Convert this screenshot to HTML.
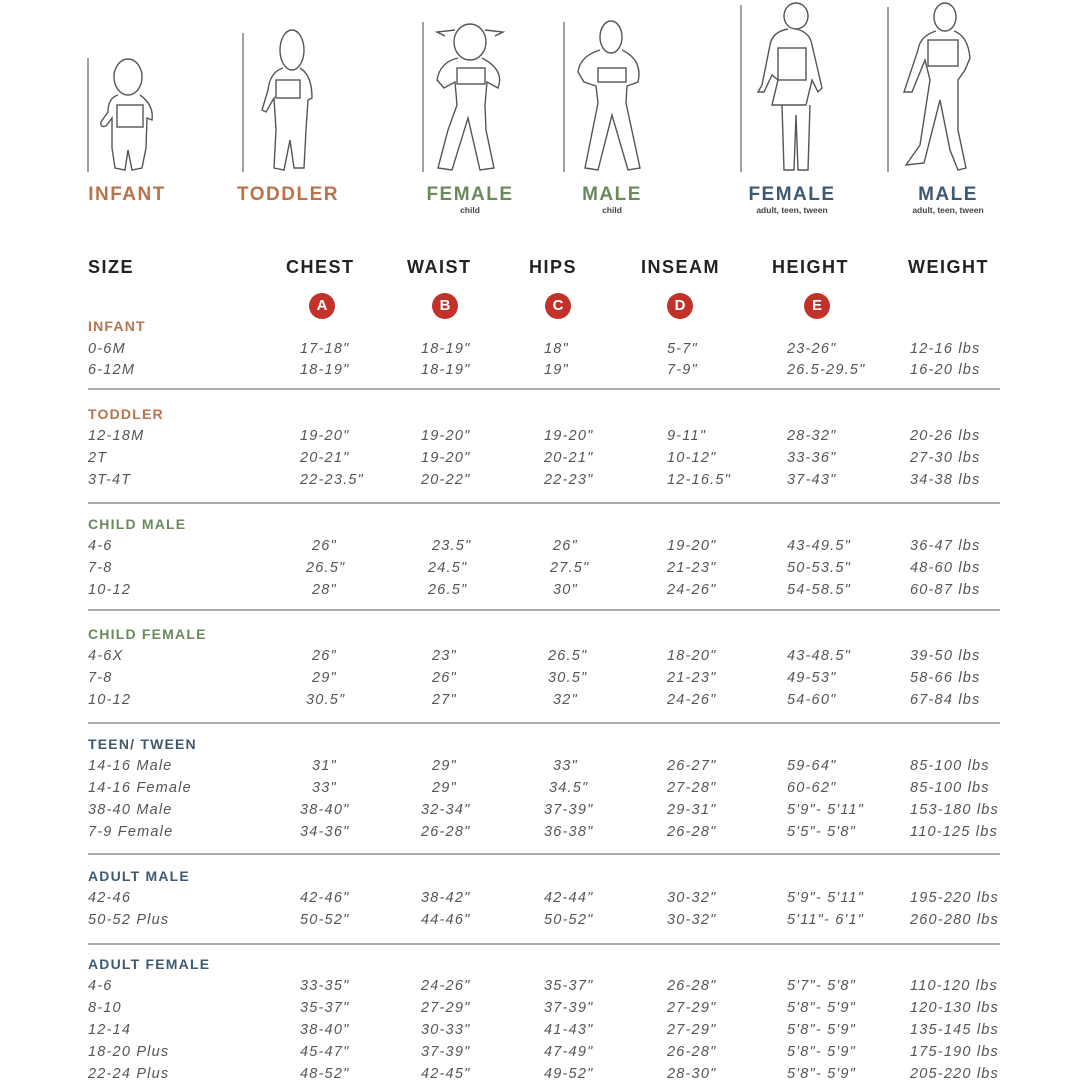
<!DOCTYPE html>
<html><head><meta charset="utf-8"><style>
body{margin:0;width:1080px;height:1080px;background:#fff;position:relative;overflow:hidden;font-family:"Liberation Sans",sans-serif}
.t{position:absolute;white-space:nowrap;font-style:italic;font-size:14.5px;color:#555;letter-spacing:1.2px;line-height:18px}
.h{position:absolute;font-weight:bold;font-size:18px;color:#222;letter-spacing:1.5px;line-height:20px}
.s{position:absolute;font-weight:bold;font-size:14px;letter-spacing:1.2px;line-height:16px}
.c{position:absolute;width:26px;height:26px;border-radius:50%;background:#c3322a;color:#fff;font-weight:bold;font-size:15px;text-align:center;line-height:26px}
.l{position:absolute;left:88px;width:912px;height:2px;background:#aaa}
.lab{position:absolute;font-weight:bold;font-size:19px;letter-spacing:1.5px;text-align:center;line-height:20px}
.sub{position:absolute;font-weight:bold;font-size:8.5px;color:#444;text-align:center}
.a{left:88px}.b{left:300px}.cc{left:421px}.d{left:544px}.e{left:667px}.f{left:787px}.g{left:910px}
</style></head><body>
<svg width="1080" height="230" style="position:absolute;left:0;top:0" fill="none" stroke="#555" stroke-width="1.4">
<g stroke="#777"><line x1="88" y1="58" x2="88" y2="172"/><line x1="243" y1="33" x2="243" y2="172"/><line x1="423" y1="22" x2="423" y2="172"/><line x1="564" y1="22" x2="564" y2="172"/><line x1="741" y1="5" x2="741" y2="172"/><line x1="888" y1="7" x2="888" y2="172"/></g>
<!-- infant -->
<ellipse cx="128" cy="77" rx="14" ry="18"/>
<path d="M118 95 Q108 98 108 112 L101 122 Q100 128 106 126 L112 118 L112 148 L115 168 L125 170 L128 150 L132 170 L142 168 L146 148 L147 118 L152 120 Q154 105 140 95"/>
<rect x="117" y="105" width="26" height="22"/>
<!-- toddler -->
<ellipse cx="292" cy="50" rx="12" ry="20"/>
<path d="M283 68 Q270 72 268 90 L262 110 L266 112 L274 98 L276 130 L274 168 L284 170 L290 140 L294 168 L304 168 L306 130 L308 100 L312 98 Q312 75 300 68"/>
<rect x="276" y="80" width="24" height="18"/>
<!-- female child -->
<ellipse cx="470" cy="42" rx="16" ry="18"/>
<path d="M455 30 L437 32 L445 36 M485 30 L503 32 L495 36"/>
<path d="M458 58 Q440 62 437 80 L444 88 L455 82 L457 105 L448 130 L438 168 L452 170 L468 118 L480 170 L494 168 L486 130 L485 105 L487 82 L498 88 Q505 70 482 58"/>
<rect x="457" y="68" width="28" height="16"/>
<!-- male child -->
<ellipse cx="611" cy="37" rx="11" ry="16"/>
<path d="M600 50 Q580 56 578 72 L584 82 L596 86 L598 103 L585 168 L598 170 L612 115 L628 170 L640 168 L626 103 L627 86 L638 82 Q643 60 622 50"/>
<rect x="598" y="68" width="28" height="14"/>
<!-- female adult -->
<ellipse cx="796" cy="16" rx="12" ry="13"/>
<path d="M788 29 Q772 32 770 45 L762 85 L758 92 L764 92 L772 75 L778 80 L772 105 L806 105 L812 80 L818 92 L822 88 L812 45 Q810 32 796 29"/>
<path d="M782 105 L784 170 L794 170 L796 115 L798 170 L808 170 L810 105"/>
<rect x="778" y="48" width="28" height="32"/>
<!-- male adult -->
<ellipse cx="945" cy="17" rx="11" ry="14"/>
<path d="M936 31 Q920 36 918 50 L904 92 L912 92 L925 60 L930 80 L920 145 L906 165 L924 163 L940 100 L950 150 L958 170 L966 168 L958 130 L958 80 L965 70 L970 58 Q968 36 954 31"/>
<rect x="928" y="40" width="30" height="26"/>
</svg>
<div class="lab" style="left:77px;width:100px;top:185px;color:#b9734a">INFANT</div>
<div class="lab" style="left:228px;width:120px;top:185px;color:#b9734a">TODDLER</div>
<div class="lab" style="left:420px;width:100px;top:185px;color:#6a8a5c">FEMALE</div><div class="sub" style="left:420px;width:100px;top:205px">child</div>
<div class="lab" style="left:562px;width:100px;top:185px;color:#6a8a5c">MALE</div><div class="sub" style="left:562px;width:100px;top:205px">child</div>
<div class="lab" style="left:742px;width:100px;top:185px;color:#3e5a73">FEMALE</div><div class="sub" style="left:732px;width:120px;top:205px">adult, teen, tween</div>
<div class="lab" style="left:898px;width:100px;top:185px;color:#3e5a73">MALE</div><div class="sub" style="left:888px;width:120px;top:205px">adult, teen, tween</div>

<div class="h" style="left:88px;top:257px">SIZE</div>
<div class="h" style="left:286px;top:257px">CHEST</div>
<div class="h" style="left:407px;top:257px">WAIST</div>
<div class="h" style="left:529px;top:257px">HIPS</div>
<div class="h" style="left:641px;top:257px">INSEAM</div>
<div class="h" style="left:772px;top:257px">HEIGHT</div>
<div class="h" style="left:908px;top:257px">WEIGHT</div>
<div class="c" style="left:309px;top:293px">A</div>
<div class="c" style="left:432px;top:293px">B</div>
<div class="c" style="left:545px;top:293px">C</div>
<div class="c" style="left:667px;top:293px">D</div>
<div class="c" style="left:804px;top:293px">E</div>

<div class="s" style="left:88px;top:318px;color:#b9734a">INFANT</div>
<div class="t a" style="top:340px">0-6M</div><div class="t b" style="top:340px">17-18"</div><div class="t cc" style="top:340px">18-19"</div><div class="t d" style="top:340px">18"</div><div class="t e" style="top:340px">5-7"</div><div class="t f" style="top:340px">23-26"</div><div class="t g" style="top:340px">12-16 lbs</div>
<div class="t a" style="top:361px">6-12M</div><div class="t b" style="top:361px">18-19"</div><div class="t cc" style="top:361px">18-19"</div><div class="t d" style="top:361px">19"</div><div class="t e" style="top:361px">7-9"</div><div class="t f" style="top:361px">26.5-29.5"</div><div class="t g" style="top:361px">16-20 lbs</div>
<div class="l" style="top:388px"></div>

<div class="s" style="left:88px;top:406px;color:#b9734a">TODDLER</div>
<div class="t a" style="top:427px">12-18M</div><div class="t b" style="top:427px">19-20"</div><div class="t cc" style="top:427px">19-20"</div><div class="t d" style="top:427px">19-20"</div><div class="t e" style="top:427px">9-11"</div><div class="t f" style="top:427px">28-32"</div><div class="t g" style="top:427px">20-26 lbs</div>
<div class="t a" style="top:449px">2T</div><div class="t b" style="top:449px">20-21"</div><div class="t cc" style="top:449px">19-20"</div><div class="t d" style="top:449px">20-21"</div><div class="t e" style="top:449px">10-12"</div><div class="t f" style="top:449px">33-36"</div><div class="t g" style="top:449px">27-30 lbs</div>
<div class="t a" style="top:471px">3T-4T</div><div class="t b" style="top:471px">22-23.5"</div><div class="t cc" style="top:471px">20-22"</div><div class="t d" style="top:471px">22-23"</div><div class="t e" style="top:471px">12-16.5"</div><div class="t f" style="top:471px">37-43"</div><div class="t g" style="top:471px">34-38 lbs</div>
<div class="l" style="top:502px"></div>

<div class="s" style="left:88px;top:516px;color:#6a8a5c">CHILD MALE</div>
<div class="t a" style="top:537px">4-6</div><div class="t" style="left:312px;top:537px">26"</div><div class="t" style="left:432px;top:537px">23.5"</div><div class="t" style="left:553px;top:537px">26"</div><div class="t e" style="top:537px">19-20"</div><div class="t f" style="top:537px">43-49.5"</div><div class="t g" style="top:537px">36-47 lbs</div>
<div class="t a" style="top:559px">7-8</div><div class="t" style="left:306px;top:559px">26.5"</div><div class="t" style="left:428px;top:559px">24.5"</div><div class="t" style="left:550px;top:559px">27.5"</div><div class="t e" style="top:559px">21-23"</div><div class="t f" style="top:559px">50-53.5"</div><div class="t g" style="top:559px">48-60 lbs</div>
<div class="t a" style="top:581px">10-12</div><div class="t" style="left:312px;top:581px">28"</div><div class="t" style="left:428px;top:581px">26.5"</div><div class="t" style="left:553px;top:581px">30"</div><div class="t e" style="top:581px">24-26"</div><div class="t f" style="top:581px">54-58.5"</div><div class="t g" style="top:581px">60-87 lbs</div>
<div class="l" style="top:609px"></div>

<div class="s" style="left:88px;top:626px;color:#6a8a5c">CHILD FEMALE</div>
<div class="t a" style="top:647px">4-6X</div><div class="t" style="left:312px;top:647px">26"</div><div class="t" style="left:432px;top:647px">23"</div><div class="t" style="left:548px;top:647px">26.5"</div><div class="t e" style="top:647px">18-20"</div><div class="t f" style="top:647px">43-48.5"</div><div class="t g" style="top:647px">39-50 lbs</div>
<div class="t a" style="top:669px">7-8</div><div class="t" style="left:312px;top:669px">29"</div><div class="t" style="left:432px;top:669px">26"</div><div class="t" style="left:548px;top:669px">30.5"</div><div class="t e" style="top:669px">21-23"</div><div class="t f" style="top:669px">49-53"</div><div class="t g" style="top:669px">58-66 lbs</div>
<div class="t a" style="top:691px">10-12</div><div class="t" style="left:306px;top:691px">30.5"</div><div class="t" style="left:432px;top:691px">27"</div><div class="t" style="left:553px;top:691px">32"</div><div class="t e" style="top:691px">24-26"</div><div class="t f" style="top:691px">54-60"</div><div class="t g" style="top:691px">67-84 lbs</div>
<div class="l" style="top:722px"></div>

<div class="s" style="left:88px;top:736px;color:#3e5a73">TEEN/ TWEEN</div>
<div class="t a" style="top:757px">14-16 Male</div><div class="t" style="left:312px;top:757px">31"</div><div class="t" style="left:432px;top:757px">29"</div><div class="t" style="left:553px;top:757px">33"</div><div class="t e" style="top:757px">26-27"</div><div class="t f" style="top:757px">59-64"</div><div class="t g" style="top:757px">85-100 lbs</div>
<div class="t a" style="top:779px">14-16 Female</div><div class="t" style="left:312px;top:779px">33"</div><div class="t" style="left:432px;top:779px">29"</div><div class="t" style="left:549px;top:779px">34.5"</div><div class="t e" style="top:779px">27-28"</div><div class="t f" style="top:779px">60-62"</div><div class="t g" style="top:779px">85-100 lbs</div>
<div class="t a" style="top:801px">38-40 Male</div><div class="t b" style="top:801px">38-40"</div><div class="t cc" style="top:801px">32-34"</div><div class="t d" style="top:801px">37-39"</div><div class="t e" style="top:801px">29-31"</div><div class="t f" style="top:801px">5'9"- 5'11"</div><div class="t g" style="top:801px">153-180 lbs</div>
<div class="t a" style="top:823px">7-9 Female</div><div class="t b" style="top:823px">34-36"</div><div class="t cc" style="top:823px">26-28"</div><div class="t d" style="top:823px">36-38"</div><div class="t e" style="top:823px">26-28"</div><div class="t f" style="top:823px">5'5"- 5'8"</div><div class="t g" style="top:823px">110-125 lbs</div>
<div class="l" style="top:853px"></div>

<div class="s" style="left:88px;top:868px;color:#3e5a73">ADULT MALE</div>
<div class="t a" style="top:889px">42-46</div><div class="t b" style="top:889px">42-46"</div><div class="t cc" style="top:889px">38-42"</div><div class="t d" style="top:889px">42-44"</div><div class="t e" style="top:889px">30-32"</div><div class="t f" style="top:889px">5'9"- 5'11"</div><div class="t g" style="top:889px">195-220 lbs</div>
<div class="t a" style="top:911px">50-52 Plus</div><div class="t b" style="top:911px">50-52"</div><div class="t cc" style="top:911px">44-46"</div><div class="t d" style="top:911px">50-52"</div><div class="t e" style="top:911px">30-32"</div><div class="t f" style="top:911px">5'11"- 6'1"</div><div class="t g" style="top:911px">260-280 lbs</div>
<div class="l" style="top:943px"></div>

<div class="s" style="left:88px;top:956px;color:#3e5a73">ADULT FEMALE</div>
<div class="t a" style="top:977px">4-6</div><div class="t b" style="top:977px">33-35"</div><div class="t cc" style="top:977px">24-26"</div><div class="t d" style="top:977px">35-37"</div><div class="t e" style="top:977px">26-28"</div><div class="t f" style="top:977px">5'7"- 5'8"</div><div class="t g" style="top:977px">110-120 lbs</div>
<div class="t a" style="top:999px">8-10</div><div class="t b" style="top:999px">35-37"</div><div class="t cc" style="top:999px">27-29"</div><div class="t d" style="top:999px">37-39"</div><div class="t e" style="top:999px">27-29"</div><div class="t f" style="top:999px">5'8"- 5'9"</div><div class="t g" style="top:999px">120-130 lbs</div>
<div class="t a" style="top:1021px">12-14</div><div class="t b" style="top:1021px">38-40"</div><div class="t cc" style="top:1021px">30-33"</div><div class="t d" style="top:1021px">41-43"</div><div class="t e" style="top:1021px">27-29"</div><div class="t f" style="top:1021px">5'8"- 5'9"</div><div class="t g" style="top:1021px">135-145 lbs</div>
<div class="t a" style="top:1043px">18-20 Plus</div><div class="t b" style="top:1043px">45-47"</div><div class="t cc" style="top:1043px">37-39"</div><div class="t d" style="top:1043px">47-49"</div><div class="t e" style="top:1043px">26-28"</div><div class="t f" style="top:1043px">5'8"- 5'9"</div><div class="t g" style="top:1043px">175-190 lbs</div>
<div class="t a" style="top:1065px">22-24 Plus</div><div class="t b" style="top:1065px">48-52"</div><div class="t cc" style="top:1065px">42-45"</div><div class="t d" style="top:1065px">49-52"</div><div class="t e" style="top:1065px">28-30"</div><div class="t f" style="top:1065px">5'8"- 5'9"</div><div class="t g" style="top:1065px">205-220 lbs</div>
</body></html>
